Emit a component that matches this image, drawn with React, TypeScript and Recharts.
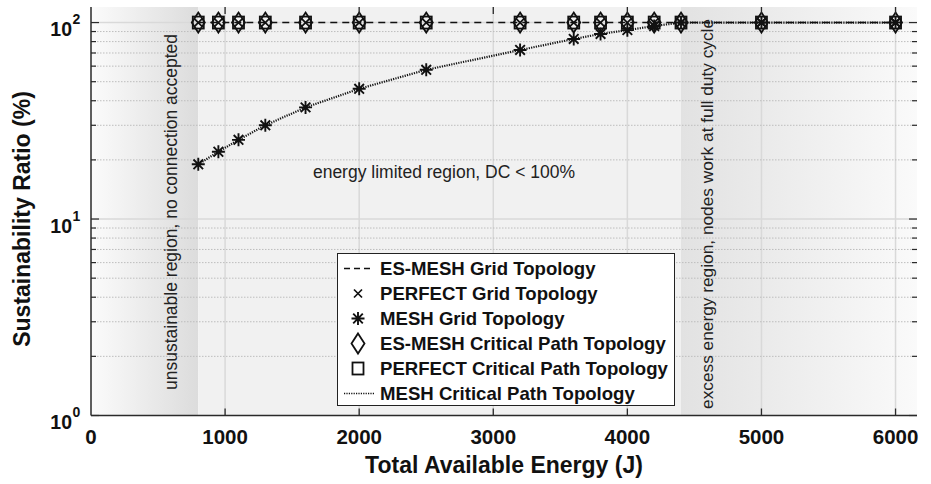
import React from 'react';
import { ComposedChart, Scatter, XAxis, YAxis, ReferenceArea, ReferenceLine } from 'recharts';

// energy levels tested (J)
const energy = [800, 950, 1100, 1300, 1600, 2000, 2500, 3200, 3600, 3800, 4000, 4200, 4400, 5000, 6000];

// sustainability ratio (%) per topology
const esMeshGrid = [100, 100, 100, 100, 100, 100, 100, 100, 100, 100, 100, 100, 100, 100, 100];
const perfectGrid = [100, 100, 100, 100, 100, 100, 100, 100, 100, 100, 100, 100, 100, 100, 100];
const meshGrid = [19, 22, 25.3, 30, 37, 46, 57.5, 72.5, 82.5, 87.5, 91.5, 96, 100, 100, 100];
const esMeshCritical = [100, 100, 100, 100, 100, 100, 100, 100, 100, 100, 100, 100, 100, 100, 100];
const perfectCritical = [100, 100, 100, 100, 100, 100, 100, 100, 100, 100, 100, 100, 100, 100, 100];
const meshCritical = [19, 22, 25.3, 30, 37, 46, 57.5, 72.5, 82.5, 87.5, 91.5, 96, 100, 100, 100];

const xTicks = [0, 1000, 2000, 3000, 4000, 5000, 6000];
const yMajor = [1, 10, 100];
const yMinor = [2, 3, 4, 5, 6, 7, 8, 9, 20, 30, 40, 50, 60, 70, 80, 90];
const xMax = 6160;
const yDomain = [1, 120];
const regionEdges = [0, 800, 4400, xMax];

const W = 931;
const H = 484;
const PLOT_LEFT = 91;
const PLOT_TOP = 7;
const PLOT_RIGHT = 917;
const PLOT_BOTTOM = 415.5;
const INK = '#111';
const AXIS = '#2a2a2a';
const FONT = '"Liberation Sans", Arial, Helvetica, sans-serif';

const toPoints = (vals: number[]) => energy.map((x, i) => ({ x, y: vals[i] }));

const Diamond = ({ cx, cy }: any) => (
  <path d={`M${cx},${cy - 10}L${cx + 6.5},${cy}L${cx},${cy + 10}L${cx - 6.5},${cy}Z`} fill="none" stroke={INK} strokeWidth={1.8} />
);
const Square = ({ cx, cy }: any) => (
  <rect x={cx - 5.5} y={cy - 6} width={11} height={12} fill="none" stroke={INK} strokeWidth={1.8} />
);
const Cross = ({ cx, cy }: any) => (
  <path d={`M${cx - 4},${cy - 4}L${cx + 4},${cy + 4}M${cx - 4},${cy + 4}L${cx + 4},${cy - 4}`} stroke={INK} strokeWidth={1.7} />
);
const Star = ({ cx, cy }: any) => (
  <path
    d={`M${cx},${cy - 6.5}L${cx},${cy + 6.5}M${cx - 6.5},${cy}L${cx + 6.5},${cy}M${cx - 4.8},${cy - 4.8}L${cx + 4.8},${cy + 4.8}M${cx - 4.8},${cy + 4.8}L${cx + 4.8},${cy - 4.8}`}
    stroke={INK}
    strokeWidth={1.9}
  />
);
const NoDot = () => <g />;

const XTick = ({ x, payload }: any) => (
  <g>
    {payload.value > 0 && (
      <>
        <line x1={x} x2={x} y1={PLOT_BOTTOM} y2={PLOT_BOTTOM - 7} stroke={AXIS} strokeWidth={1.3} />
        <line x1={x} x2={x} y1={PLOT_TOP} y2={PLOT_TOP + 7} stroke={AXIS} strokeWidth={1.3} />
      </>
    )}
    <text x={x} y={444} textAnchor="middle" fontFamily={FONT} fontWeight="bold" fontSize={20.5} fill={INK}>
      {payload.value}
    </text>
  </g>
);

const YTick = ({ y, payload }: any) => {
  const v = payload.value;
  const major = yMajor.includes(v);
  const len = major ? 8 : 5;
  return (
    <g>
      <line x1={PLOT_LEFT} x2={PLOT_LEFT + len} y1={y} y2={y} stroke={AXIS} strokeWidth={1.2} />
      <line x1={PLOT_RIGHT} x2={PLOT_RIGHT - len} y1={y} y2={y} stroke={AXIS} strokeWidth={1.2} />
      {major && (
        <>
          <text x={72} y={y + 13.5} textAnchor="end" fontFamily={FONT} fontWeight="bold" fontSize={19.5} fill={INK}>10</text>
          <text x={72.5} y={y + 1.5} fontFamily={FONT} fontWeight="bold" fontSize={14} fill={INK}>{Math.round(Math.log10(v))}</text>
        </>
      )}
    </g>
  );
};

const legendItems = [
  { name: 'ES-MESH Grid Topology', icon: 'dash' },
  { name: 'PERFECT Grid Topology', icon: 'cross' },
  { name: 'MESH Grid Topology', icon: 'star' },
  { name: 'ES-MESH Critical Path Topology', icon: 'diamond' },
  { name: 'PERFECT Critical Path Topology', icon: 'square' },
  { name: 'MESH Critical Path Topology', icon: 'dot' },
];

const LegendIcon = ({ icon }: { icon: string }) => {
  const c = { cx: 20, cy: 12.5 };
  return (
    <svg width={42} height={25} style={{ display: 'block', flex: 'none' }}>
      {icon === 'dash' && <line x1={6} x2={36} y1={12.5} y2={12.5} stroke={INK} strokeWidth={1.5} strokeDasharray="6 4" />}
      {icon === 'dot' && <line x1={6} x2={36} y1={12.5} y2={12.5} stroke={INK} strokeWidth={1.3} strokeDasharray="1.2 1.2" />}
      {icon === 'cross' && <Cross {...c} />}
      {icon === 'star' && <Star {...c} />}
      {icon === 'diamond' && <Diamond {...c} />}
      {icon === 'square' && <Square {...c} />}
    </svg>
  );
};

export default function App() {
  return (
    <div style={{ position: 'absolute', left: 0, top: 0, width: W, height: H, background: '#fff' }}>
      <ComposedChart width={W} height={H} margin={{ top: PLOT_TOP, right: W - PLOT_RIGHT, left: 0, bottom: 0 }}>
        <defs>
          <linearGradient id="leftShade" x1="0" y1="0" x2="1" y2="0">
            <stop offset="0%" stopColor="#fbfbfb" />
            <stop offset="100%" stopColor="#dcdcdc" />
          </linearGradient>
          <linearGradient id="rightShade" x1="0" y1="0" x2="1" y2="0">
            <stop offset="0%" stopColor="#e2e2e2" />
            <stop offset="100%" stopColor="#fafafa" />
          </linearGradient>
        </defs>
        <XAxis
          dataKey="x"
          type="number"
          domain={[0, xMax]}
          ticks={xTicks}
          interval={0}
          allowDataOverflow
          tick={XTick}
          tickLine={false}
          axisLine={{ stroke: AXIS, strokeWidth: 1.5 }}
          height={H - PLOT_BOTTOM}
        />
        <XAxis xAxisId="top" orientation="top" type="number" domain={[0, xMax]} height={0} tick={false} tickLine={false} axisLine={{ stroke: AXIS, strokeWidth: 1.5 }} />
        <YAxis
          dataKey="y"
          type="number"
          scale="log"
          domain={yDomain}
          ticks={[...yMajor, ...yMinor].sort((a, b) => a - b)}
          interval={0}
          allowDataOverflow
          tick={YTick}
          tickLine={false}
          axisLine={{ stroke: AXIS, strokeWidth: 1.5 }}
          width={PLOT_LEFT}
        />
        <YAxis yAxisId="right" orientation="right" type="number" scale="log" domain={yDomain} allowDataOverflow width={0} tick={false} tickLine={false} axisLine={{ stroke: AXIS, strokeWidth: 1.5 }} />

        <ReferenceArea x1={regionEdges[0]} x2={regionEdges[1]} y1={yDomain[0]} y2={yDomain[1]} fill="url(#leftShade)" fillOpacity={1} stroke="none" />
        <ReferenceArea x1={regionEdges[1]} x2={regionEdges[2]} y1={yDomain[0]} y2={yDomain[1]} fill="#f1f1f1" fillOpacity={1} stroke="none" />
        <ReferenceArea x1={regionEdges[2]} x2={regionEdges[3]} y1={yDomain[0]} y2={yDomain[1]} fill="url(#rightShade)" fillOpacity={1} stroke="none" />

        {xTicks.slice(1).map((v) => (
          <ReferenceLine key={`gx${v}`} x={v} stroke="#d9d9d9" strokeWidth={1.5} />
        ))}
        {yMajor.slice(1).map((v) => (
          <ReferenceLine key={`gy${v}`} y={v} stroke="#d9d9d9" strokeWidth={1.5} />
        ))}
        {yMinor.map((v) => (
          <ReferenceLine key={`gm${v}`} y={v} stroke="#bdbdbd" strokeWidth={1} strokeDasharray="1.5 1.5" />
        ))}

        <Scatter data={toPoints(esMeshGrid)} shape={NoDot} line={{ stroke: INK, strokeWidth: 1.6, strokeDasharray: '7 5' }} isAnimationActive={false} />
        <Scatter data={toPoints(meshCritical)} shape={NoDot} line={{ stroke: INK, strokeWidth: 2.2, strokeDasharray: '1.2 1.2' }} isAnimationActive={false} />
        <Scatter data={toPoints(esMeshCritical)} shape={Diamond} isAnimationActive={false} />
        <Scatter data={toPoints(perfectCritical)} shape={Square} isAnimationActive={false} />
        <Scatter data={toPoints(perfectGrid)} shape={Cross} isAnimationActive={false} />
        <Scatter data={toPoints(meshGrid)} shape={Star} isAnimationActive={false} />
      </ComposedChart>

      <svg width={W} height={H} style={{ position: 'absolute', left: 0, top: 0, pointerEvents: 'none' }}>
        <text x={444} y={178} textAnchor="middle" fontFamily={FONT} fontSize={17.5} fill="#222">
          energy limited region, DC &lt; 100%
        </text>
        <text transform="translate(177,212) rotate(-90)" textAnchor="middle" fontFamily={FONT} fontSize={17.5} fill="#222">
          unsustainable region, no connection accepted
        </text>
        <text transform="translate(713,214) rotate(-90)" textAnchor="middle" fontFamily={FONT} fontSize={17.3} fill="#222">
          excess energy region, nodes work at full duty cycle
        </text>
        <text x={504} y={473} textAnchor="middle" fontFamily={FONT} fontWeight="bold" fontSize={23} fill={INK}>
          Total Available Energy (J)
        </text>
        <text transform="translate(30,219) rotate(-90)" textAnchor="middle" fontFamily={FONT} fontWeight="bold" fontSize={23} fill={INK}>
          Sustainability Ratio (%)
        </text>
      </svg>

      <div
        style={{
          position: 'absolute',
          left: 337,
          top: 253,
          width: 338,
          height: 153,
          boxSizing: 'border-box',
          border: '1.3px solid #222',
          background: '#fff',
          paddingTop: 2,
          fontFamily: FONT,
          fontWeight: 'bold',
          fontSize: 18.6,
          color: INK,
        }}
      >
        {legendItems.map((it) => (
          <div key={it.name} style={{ display: 'flex', alignItems: 'center', height: 25, whiteSpace: 'nowrap' }}>
            <LegendIcon icon={it.icon} />
            <span>{it.name}</span>
          </div>
        ))}
      </div>
    </div>
  );
}
